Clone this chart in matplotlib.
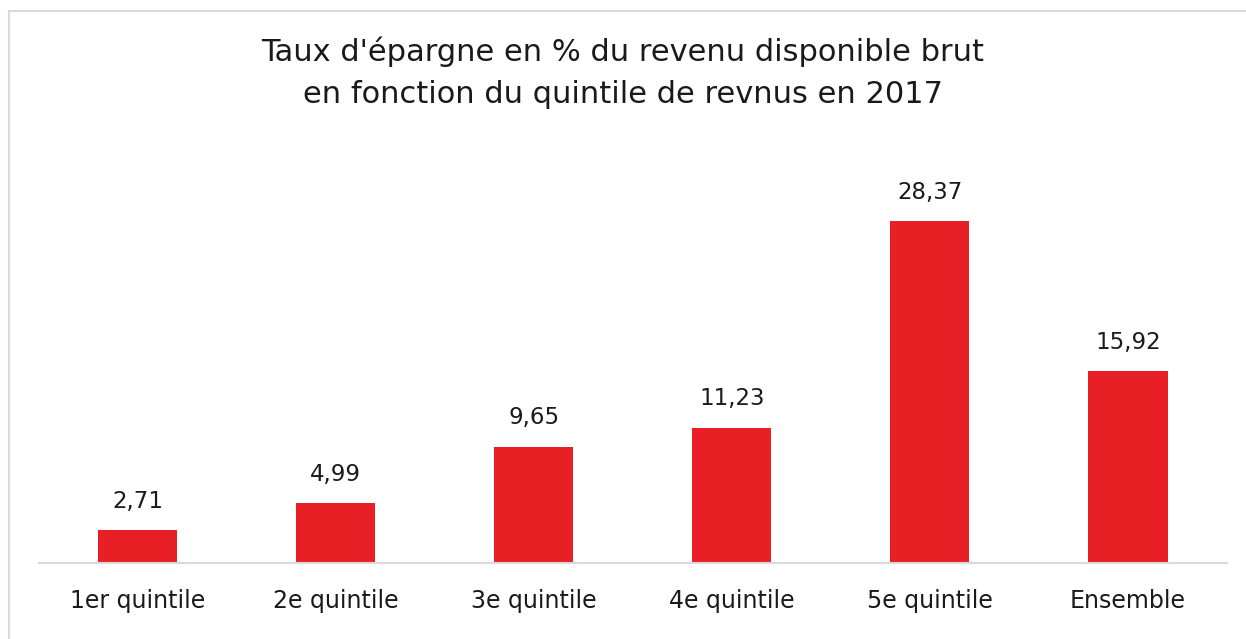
import matplotlib.pyplot as plt
from matplotlib.patches import Rectangle

categories = ['1er quintile', '2e quintile', '3e quintile', '4e quintile', '5e quintile', 'Ensemble']
values = [2.71, 4.99, 9.65, 11.23, 28.37, 15.92]
labels = ['2,71', '4,99', '9,65', '11,23', '28,37', '15,92']

plt.rcParams['font.family'] = ['DejaVu Sans']

W, H = 1246, 639
fig = plt.figure(figsize=(W / 100, H / 100), dpi=100)

# cadre gris clair autour du graphique
fig.patches.append(Rectangle((9 / W, -0.1), 1.2, (H - 11) / H + 0.1, transform=fig.transFigure,
                             fill=False, edgecolor='#d9d9d9', linewidth=1.5))

ymax = 34.0
top_px = 563 - ymax * 12.05
ax = fig.add_axes([38.5 / W, (H - 563) / H, (1227 - 38.5) / W, (563 - top_px) / H])

x = range(len(categories))
ax.bar(x, values, width=0.4, color='#e81f25')
ax.set_xlim(-0.5, len(categories) - 0.5)
ax.set_ylim(0, ymax)

for xi, v, lab in zip(x, values, labels):
    ax.annotate(lab, (xi, v), xytext=(0, 12.5), textcoords='offset points',
                ha='center', va='bottom', fontsize=16.5, color='#1a1a1a')

for s in ['top', 'right', 'left']:
    ax.spines[s].set_visible(False)
ax.spines['bottom'].set_color('#d9d9d9')
ax.spines['bottom'].set_linewidth(1.5)
ax.set_yticks([])
ax.set_xticks(list(x))
ax.set_xticklabels(categories, fontsize=17, color='#1a1a1a')
ax.tick_params(axis='x', length=0, pad=18.5)

fig.text(0.5, 1 - 73 / H, "Taux d'épargne en % du revenu disponible brut\nen fonction du quintile de revnus en 2017",
         ha='center', va='center', fontsize=22, color='#1a1a1a', linespacing=1.55)

fig.savefig('out.png', dpi=100)
